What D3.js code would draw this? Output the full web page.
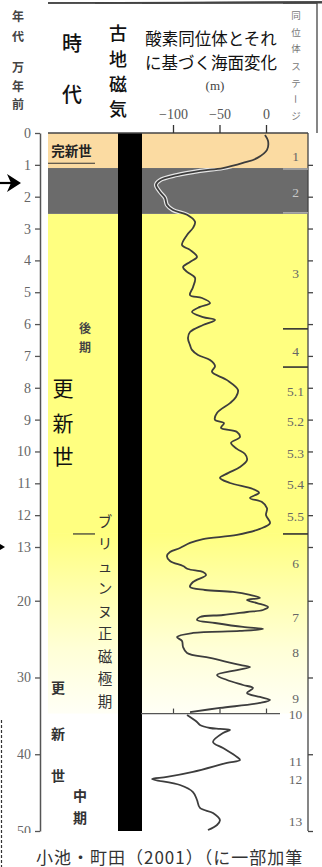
<!DOCTYPE html>
<html><head><meta charset="utf-8">
<script src="https://cdn.jsdelivr.net/npm/d3@7"></script>
<style>body{margin:0;background:#fff}svg{display:block}</style>
</head><body><svg id="c" width="322" height="867"></svg>
<script>
// ---- data ----
const ageTicks = [0,1,2,3,4,5,6,7,8,9,10,11,12,13,20,30,40,50];
const seaTicks = [-100,-50,0];
// sea level (m) vs age (10^4 years ago), upper record
const curveAgeUpper = [0.06,0.25,0.53,0.79,0.94,1.10,1.19,1.32,1.48,1.63,1.85,2.04,2.26,2.42,2.57,2.79,2.98,3.20,
 3.52,3.67,3.89,4.05,4.21,4.36,4.55,4.84,5.09,5.18,5.34,5.46,5.62,5.78,5.87,6.03,6.25,
 6.44,6.66,6.81,6.97,7.13,7.32,7.50,7.76,8.07,8.29,8.48,8.79,9.01,9.11,9.26,9.39,9.55,9.73,9.92,10.08,10.27,10.49,10.68,10.83,10.99,11.18,11.30,11.46,11.59,11.78,12.00,12.25,12.43,12.62,12.75,12.87,
 13.13,13.65,14.17,14.82,15.48,15.87,16.26,16.65,17.56,18.21,18.60,18.86,19.25,19.64,19.90,20.30,20.82,21.21,21.47,21.86,22.12,22.51,22.90,23.42,23.68,23.94,24.20,24.73,25.25,26.03,26.81,27.46,28.37,28.63,29.03,29.68,30.33,30.98,31.37,32.02,32.54,32.93,33.32,33.97,34.50];
const curveSeaUpper = [-1.1,2.2,1.1,-9.7,-24.7,-46.2,-71.0,-95.7,-114.0,-118.3,-114.0,-108.6,-106.5,-100,-84.9,-76.3,-78.5,-84.9,
 -90.3,-81.7,-74.2,-81.7,-89.2,-84.9,-76.3,-78.5,-81.7,-68.8,-60.2,-71.0,-79.6,-67.7,-54.8,-67.7,-81.7,
 -83.9,-81.7,-79.6,-73.1,-60.2,-54.8,-58.1,-41.9,-30.1,-32.3,-38.7,-52.7,-54.8,-45.2,-48.4,-31.2,-28.0,-37.6,-31.2,-22.6,-20.4,-28.0,-40.9,-49.5,-38.7,-14.0,-7.5,-17.2,-4.3,1.1,0,4.3,-6.5,-31.2,-67.7,-81.7,
 -92.5,-103.2,-106.5,-103.2,-89.2,-83.9,-67.7,-64.5,-78.5,-81.7,-65.6,-35.5,-17.2,-6.5,-20.4,-9.7,2.2,-3.2,-20.4,-46.2,-71.0,-74.2,-54.8,-24.7,-3.2,-28.0,-78.5,-95.7,-90.3,-89.2,-84.9,-60.2,-28.0,-17.2,-31.2,-52.7,-41.9,-24.7,-14.0,-20.4,-6.5,4.3,-6.5,-49.5,-81.7];
// lower (older) record
const curveAgeLower = [34.89,35.80,36.19,36.58,36.70,36.84,37.23,38.40,39.19,40.36,40.75,41.14,42.31,42.96,43.22,44.01,44.92,45.96,47.00,47.65,48.57,49.22,49.87];
const curveSeaLower = [-84.9,-74.2,-71.0,-60.2,-49.5,-38.7,-46.2,-57.0,-46.2,-31.2,-28.0,-41.9,-78.5,-106.5,-122.6,-92.5,-78.5,-74.2,-71.0,-57.0,-49.5,-52.7,-62.4];
const breakAge = 34.7;
const stageNames = ["1","2","3","4","5.1","5.2","5.3","5.4","5.5","6","7","8","9","10","11","12","13"];
const stageAges  = [0.75,1.86,4.4,6.85,8.13,9.07,10.05,11.05,12.05,15.1,22.2,26.8,32.7,34.85,41.0,43.35,48.8];
const stageBounds = [6.15,7.35,12.59];
const glacialStart = 1.10, glacialEnd = 2.54, holoceneEnd = 0.95, midLateBound = 12.59;

// ---- scales ----
const svg = d3.select("#c");
const y = d3.scaleLinear().domain([0,13,50]).range([133,547,831]);
const x = d3.scaleLinear().domain([-100,0]).range([173,266]);
const JP = "'Noto Sans CJK JP','Noto Sans',sans-serif";
const SERIF = "'Liberation Serif','DejaVu Serif',serif";

const defs = svg.append("defs");
const g = defs.append("linearGradient").attr("id","yg").attr("gradientUnits","userSpaceOnUse")
  .attr("x1",0).attr("x2",0).attr("y1",y(midLateBound)).attr("y2",y(breakAge));
[[0,"#ffff80"],[0.37,"#ffffb4"],[0.65,"#ffffd8"],[1,"#fffff6"]].forEach(s=>g.append("stop").attr("offset",s[0]).attr("stop-color",s[1]));
defs.append("clipPath").attr("id","gc").append("rect").attr("x",141).attr("width",142)
  .attr("y",y(glacialStart)).attr("height",y(glacialEnd)-y(glacialStart));

// backgrounds
svg.append("rect").attr("x",48).attr("width",260).attr("y",y(0)).attr("height",y(glacialStart)-y(0)).attr("fill","#fbdba2");
svg.append("rect").attr("x",48).attr("width",260).attr("y",y(glacialEnd)).attr("height",y(midLateBound)-y(glacialEnd)).attr("fill","#ffff80");
svg.append("rect").attr("x",48).attr("width",260).attr("y",y(midLateBound)-0.5).attr("height",y(breakAge)-y(midLateBound)+0.5).attr("fill","url(#yg)");
svg.append("rect").attr("x",48).attr("width",260).attr("y",y(glacialStart)).attr("height",y(glacialEnd)-y(glacialStart)).attr("fill","#6b6b6b");

// paleomagnetic black bar
svg.append("rect").attr("x",118).attr("width",24).attr("y",y(0)).attr("height",y(50)-y(0)).attr("fill","#000");

// frame lines
const line = (x1,y1,x2,y2,c="#444",w=1.3)=>svg.append("line").attr("x1",x1).attr("y1",y1).attr("x2",x2).attr("y2",y2).attr("stroke",c).attr("stroke-width",w);
line(48,3,317,3);
[48,95,142,283].forEach(v=>line(v,3,y(50)));
line(308,y(0),308,y(50));
line(317,3,317,y(0));
line(48,y(0),308,y(0));
line(48,y(holoceneEnd),95,y(holoceneEnd),"#333",1.2);
line(73,y(midLateBound),95,y(midLateBound),"#333",1.2);
line(283,y(glacialStart)+1,308,y(glacialStart)+1,"#ccc",1);
line(283,y(glacialEnd)-1,308,y(glacialEnd)-1,"#ccc",1);
stageBounds.forEach(a=>line(283,y(a),308,y(a),"#333",1.6));

// left axis
const la = svg.append("g").attr("transform","translate(40,0)")
  .call(d3.axisLeft(y).tickValues(ageTicks).tickSize(5).tickSizeOuter(0).tickPadding(4));
la.select(".domain").attr("stroke","#555").attr("stroke-width",1.5);
la.selectAll(".tick line").attr("stroke","#555").attr("stroke-width",1.3);
la.selectAll(".tick text").attr("font-family",SERIF).attr("font-size",14).attr("fill","#666");

// right axis ticks
const ra = svg.append("g").attr("transform","translate(308,0)")
  .call(d3.axisRight(y).tickValues(ageTicks.slice(1)).tickSize(5).tickSizeOuter(0).tickFormat(""));
ra.select(".domain").remove();
ra.selectAll(".tick line").attr("stroke","#444").attr("stroke-width",1.3);

// top sea-level axis
const fmt = d=> d<0 ? "\u2212"+Math.abs(d) : String(d);
const ta = svg.append("g").attr("transform",`translate(0,${y(0)})`)
  .call(d3.axisTop(x).tickValues(seaTicks).tickSize(8).tickSizeOuter(0).tickPadding(6).tickFormat(fmt));
ta.select(".domain").remove();
ta.selectAll(".tick line").attr("stroke","#333").attr("stroke-width",1.3);
ta.selectAll(".tick text").attr("font-family",SERIF).attr("font-size",14).attr("fill","#555");

// lower sea-level axis
const ba = svg.append("g").attr("transform",`translate(0,${y(breakAge)})`)
  .call(d3.axisTop(x).tickValues(seaTicks).tickSize(5).tickSizeOuter(0).tickFormat(""));
ba.select(".domain").remove();
ba.selectAll(".tick line").attr("stroke","#444").attr("stroke-width",1.2);
line(141,y(breakAge),280,y(breakAge),"#555",1.2);

// curves
const lg = d3.line().x(d=>x(d[1])).y(d=>y(d[0])).curve(d3.curveCatmullRom.alpha(0.5));
const up = curveAgeUpper.map((a,i)=>[a,curveSeaUpper[i]]);
const lo = curveAgeLower.map((a,i)=>[a,curveSeaLower[i]]);
svg.append("path").attr("d",lg(up)).attr("fill","none").attr("stroke","#e6e6e6").attr("stroke-width",4.2).attr("clip-path","url(#gc)");
[up,lo].forEach(d=>svg.append("path").attr("d",lg(d)).attr("fill","none").attr("stroke","#3d3d3d").attr("stroke-width",1.8).attr("stroke-linejoin","round"));

// stage labels
svg.append("g").selectAll("text").data(stageNames).join("text")
  .attr("x",295.5).attr("y",(d,i)=>y(stageAges[i])).attr("text-anchor","middle").attr("dominant-baseline","central")
  .attr("font-family",SERIF).attr("font-size",13.5).attr("fill",(d,i)=>i===1?"#c8c8c8":"#666").text(d=>d);

// text helper (vertical char stacks)
function vtext(chars, xx, ys, size, fill, weight=400, fam=JP){
  chars.forEach((ch,i)=>{
    const t = svg.append("text").attr("x",xx).attr("y",ys[i]).attr("text-anchor","middle").attr("dominant-baseline","central")
      .attr("font-family",fam).attr("font-size",size).attr("fill",fill).attr("font-weight",weight).text(ch);
    if(ch==="ー") t.attr("transform",`rotate(90,${xx},${ys[i]})`);
  });
}
vtext(["年","代"],18,[15,35],12,"#444",700);
vtext(["万","年","前"],18,[66,85,103],12,"#444",700);
vtext(["時","代"],72,[42,93],20,"#111",500);
vtext(["古","地","磁","気"],118,[32,58,83,108],18,"#111",500);
vtext(["同","位","体","ス","テ","ー","ジ"],296,[15,32,48,66,83,99,115],9.5,"#777",400);
svg.append("text").attr("x",211).attr("y",38).attr("text-anchor","middle").attr("dominant-baseline","central")
  .attr("font-family",JP).attr("font-size",16.5).attr("fill","#111").text("酸素同位体とそれ");
svg.append("text").attr("x",211).attr("y",62).attr("text-anchor","middle").attr("dominant-baseline","central")
  .attr("font-family",JP).attr("font-size",16.5).attr("fill","#111").text("に基づく海面変化");
svg.append("text").attr("x",215).attr("y",85).attr("text-anchor","middle").attr("dominant-baseline","central")
  .attr("font-family",SERIF).attr("font-size",13).attr("fill","#444").text("(m)");

svg.append("text").attr("x",71.5).attr("y",150).attr("text-anchor","middle").attr("dominant-baseline","central")
  .attr("font-family",JP).attr("font-size",13.5).attr("font-weight",700).attr("fill","#222").text("完新世");
vtext(["後","期"],85,[327,346],12,"#444",700);
vtext(["更","新","世"],63,[387,422,455],21,"#111",400);
vtext(["更","新","世"],58,[687,733,775],14,"#333",700);
vtext(["中","期"],80,[795,817],14,"#333",700);
vtext(["ブ","リ","ュ","ン","ヌ","正","磁","極","期"],105,[520,542.5,565,587.5,610,632.5,655,677.5,700],14.5,"#333",400);

// caption area
svg.append("rect").attr("x",0).attr("y",833).attr("width",322).attr("height",34).attr("fill","#fff");
svg.append("text").attr("x",36).attr("y",856).attr("dominant-baseline","central")
  .attr("font-family",JP).attr("font-size",17).attr("letter-spacing",1).attr("fill","#333").text("小池・町田（2001）（に一部加筆");

// arrows & dashed marker
svg.append("line").attr("x1",0).attr("y1",y(1.57)).attr("x2",12).attr("y2",y(1.57)).attr("stroke","#000").attr("stroke-width",2.2);
svg.append("path").attr("d",`M7,${y(1.57)-9} L21,${y(1.57)} L7,${y(1.57)+9} L11,${y(1.57)} Z`).attr("fill","#000");
svg.append("path").attr("d",`M0,${y(13)-3} L5,${y(13)} L0,${y(13)+3} Z`).attr("fill","#000");
svg.append("line").attr("x1",1.5).attr("y1",720).attr("x2",1.5).attr("y2",867).attr("stroke","#333").attr("stroke-width",1.2).attr("stroke-dasharray","3,2");
</script></body></html>
